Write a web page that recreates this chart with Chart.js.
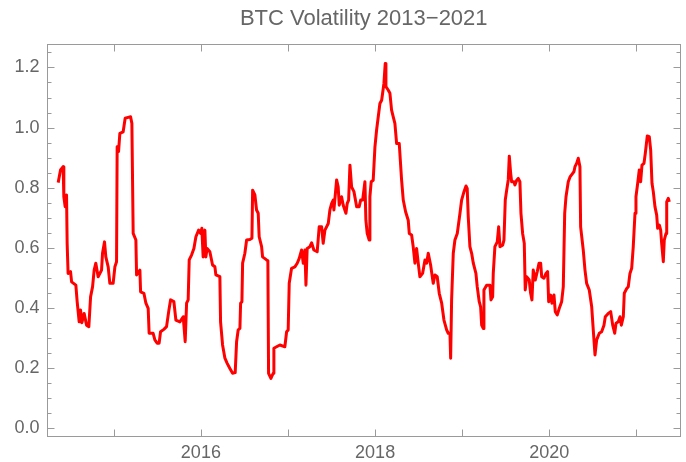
<!DOCTYPE html>
<html>
<head>
<meta charset="utf-8">
<script src="https://cdn.jsdelivr.net/npm/chart.js@4/dist/chart.umd.min.js"></script>
<style>
  html, body { margin: 0; padding: 0; background: #fff; }
  canvas { display: block; }
</style>
</head>
<body>
<canvas id="volChart" width="686" height="462"></canvas>
<script>
// decimal year of each reading
const years = [
  2014.362, 2014.389, 2014.419, 2014.427, 2014.442, 2014.458, 2014.465, 2014.476, 2014.504, 2014.516,
  2014.565, 2014.580, 2014.603, 2014.619, 2014.634, 2014.660, 2014.688, 2014.714, 2014.734, 2014.757,
  2014.775, 2014.794, 2014.821, 2014.860, 2014.871, 2014.894, 2014.909, 2014.936, 2014.955, 2014.993,
  2015.013, 2015.032, 2015.039, 2015.055, 2015.070, 2015.108, 2015.131, 2015.165, 2015.193, 2015.208,
  2015.223, 2015.254, 2015.262, 2015.300, 2015.308, 2015.346, 2015.369, 2015.395, 2015.406, 2015.452,
  2015.472, 2015.498, 2015.521, 2015.537, 2015.575, 2015.606, 2015.633, 2015.652, 2015.690, 2015.713,
  2015.759, 2015.797, 2015.805, 2015.820, 2015.836, 2015.854, 2015.866, 2015.893, 2015.920, 2015.943,
  2015.974, 2015.997, 2016.011, 2016.026, 2016.046, 2016.057, 2016.072, 2016.103, 2016.134, 2016.161,
  2016.172, 2016.218, 2016.226, 2016.249, 2016.276, 2016.302, 2016.333, 2016.364, 2016.394, 2016.410,
  2016.428, 2016.448, 2016.456, 2016.471, 2016.479, 2016.505, 2016.525, 2016.563, 2016.586, 2016.594,
  2016.620, 2016.639, 2016.658, 2016.669, 2016.697, 2016.708, 2016.754, 2016.769, 2016.777,
  2016.804, 2016.830, 2016.838, 2016.869, 2016.907, 2016.964, 2016.984, 2017.002, 2017.014, 2017.041,
  2017.079, 2017.106, 2017.129, 2017.156, 2017.175, 2017.194, 2017.206, 2017.220, 2017.251, 2017.271,
  2017.297, 2017.335, 2017.358, 2017.386, 2017.404, 2017.424, 2017.462, 2017.481, 2017.501, 2017.519,
  2017.527, 2017.558, 2017.576, 2017.588, 2017.615, 2017.634, 2017.665, 2017.680, 2017.696, 2017.711,
  2017.730, 2017.757, 2017.788, 2017.817, 2017.834, 2017.857, 2017.883, 2017.894, 2017.909, 2017.932,
  2017.940, 2017.955, 2017.978, 2017.998, 2018.017, 2018.036, 2018.055, 2018.075, 2018.086, 2018.101,
  2018.116, 2018.124, 2018.150, 2018.170, 2018.189, 2018.208, 2018.227, 2018.247, 2018.277, 2018.304,
  2018.323, 2018.350, 2018.380, 2018.392, 2018.419, 2018.437, 2018.457, 2018.476, 2018.495, 2018.514,
  2018.545, 2018.572, 2018.591, 2018.610, 2018.637, 2018.667, 2018.687, 2018.713, 2018.736, 2018.764,
  2018.790, 2018.821, 2018.839, 2018.859, 2018.867, 2018.878, 2018.897, 2018.916, 2018.943, 2018.974,
  2018.993, 2019.020, 2019.043, 2019.057, 2019.069, 2019.088, 2019.108, 2019.127, 2019.157, 2019.172,
  2019.195, 2019.211, 2019.223, 2019.241, 2019.249, 2019.280, 2019.318, 2019.330, 2019.349, 2019.356,
  2019.375, 2019.402, 2019.418, 2019.433, 2019.464, 2019.479, 2019.494, 2019.510, 2019.528, 2019.540,
  2019.556, 2019.567, 2019.594, 2019.605, 2019.625, 2019.643, 2019.662, 2019.674, 2019.693, 2019.712,
  2019.723, 2019.739, 2019.769, 2019.785, 2019.800, 2019.815, 2019.838, 2019.861, 2019.881, 2019.900,
  2019.912, 2019.938, 2019.961, 2019.980, 2019.992, 2020.015, 2020.030, 2020.053, 2020.068, 2020.091,
  2020.114, 2020.141, 2020.160, 2020.176, 2020.191, 2020.217, 2020.237, 2020.268, 2020.282, 2020.294,
  2020.313, 2020.332, 2020.351, 2020.359, 2020.389, 2020.409, 2020.428, 2020.458, 2020.486, 2020.504,
  2020.524, 2020.543, 2020.573, 2020.600, 2020.627, 2020.642, 2020.676, 2020.704, 2020.727, 2020.750,
  2020.765, 2020.791, 2020.811, 2020.826, 2020.849, 2020.860, 2020.888, 2020.906, 2020.925, 2020.945,
  2020.963, 2020.983, 2020.994, 2021.014, 2021.032, 2021.048, 2021.063, 2021.086, 2021.101, 2021.124,
  2021.147, 2021.163, 2021.178, 2021.193, 2021.212, 2021.232, 2021.243, 2021.262, 2021.278, 2021.289,
  2021.308, 2021.319, 2021.339, 2021.347, 2021.365, 2021.377
];

// volatility reading at each of those dates
const volatility = [
  0.817, 0.859, 0.870, 0.770, 0.737, 0.776, 0.615, 0.515, 0.521, 0.487,
  0.476, 0.421, 0.354, 0.393, 0.351, 0.382, 0.343, 0.338, 0.437, 0.471,
  0.526, 0.549, 0.504, 0.526, 0.582, 0.620, 0.570, 0.537, 0.482, 0.482,
  0.537, 0.554, 0.936, 0.920, 0.981, 0.986, 1.031, 1.034, 1.036, 1.014,
  0.648, 0.626, 0.510, 0.526, 0.454, 0.449, 0.416, 0.399, 0.316, 0.316,
  0.294, 0.283, 0.283, 0.321, 0.329, 0.338, 0.393, 0.427, 0.421, 0.360,
  0.354, 0.371, 0.343, 0.288, 0.416, 0.427, 0.560, 0.576, 0.598, 0.637,
  0.659, 0.648, 0.665, 0.570, 0.659, 0.570, 0.598, 0.587, 0.543, 0.537,
  0.510, 0.504, 0.354, 0.277, 0.233, 0.216, 0.199, 0.183, 0.185, 0.288,
  0.327, 0.332, 0.416, 0.421, 0.549, 0.582, 0.626, 0.628, 0.632, 0.792,
  0.776, 0.726, 0.715, 0.637, 0.604, 0.570, 0.560, 0.557, 0.183,
  0.166, 0.183, 0.266, 0.271, 0.277, 0.271, 0.321, 0.327, 0.482, 0.532,
  0.537, 0.549, 0.565, 0.593, 0.549, 0.593, 0.476, 0.598, 0.604, 0.617,
  0.593, 0.587, 0.670, 0.670, 0.615, 0.659, 0.681, 0.726, 0.748, 0.759,
  0.726, 0.826, 0.803, 0.742, 0.770, 0.742, 0.715, 0.748, 0.759, 0.875,
  0.803, 0.787, 0.737, 0.737, 0.759, 0.759, 0.820, 0.692, 0.648, 0.626,
  0.770, 0.820, 0.825, 0.936, 0.992, 1.036, 1.080, 1.091, 1.114, 1.147,
  1.213, 1.136, 1.125, 1.114, 1.058, 1.036, 1.014, 0.947, 0.947, 0.825,
  0.759, 0.720, 0.692, 0.648, 0.643, 0.604, 0.549, 0.598, 0.549, 0.504,
  0.515, 0.560, 0.549, 0.582, 0.543, 0.482, 0.510, 0.504, 0.449, 0.416,
  0.360, 0.327, 0.316, 0.316, 0.233, 0.427, 0.582, 0.626, 0.648, 0.715,
  0.759, 0.787, 0.806, 0.798, 0.703, 0.604, 0.582, 0.549, 0.515, 0.471,
  0.421, 0.404, 0.343, 0.332, 0.460, 0.476, 0.476, 0.427, 0.437, 0.515,
  0.604, 0.620, 0.670, 0.604, 0.609, 0.626, 0.759, 0.792, 0.826, 0.905,
  0.848, 0.820, 0.820, 0.809, 0.825, 0.831, 0.820, 0.715, 0.648, 0.615,
  0.460, 0.504, 0.493, 0.449, 0.427, 0.526, 0.493, 0.521, 0.549, 0.549,
  0.504, 0.499, 0.515, 0.521, 0.421, 0.443, 0.416, 0.443, 0.388, 0.377,
  0.399, 0.421, 0.471, 0.715, 0.770, 0.820, 0.836, 0.848, 0.853, 0.870,
  0.881, 0.898, 0.870, 0.670, 0.593, 0.526, 0.482, 0.460, 0.404, 0.327,
  0.244, 0.294, 0.316, 0.321, 0.343, 0.371, 0.382, 0.388, 0.343, 0.316,
  0.349, 0.354, 0.371, 0.343, 0.371, 0.449, 0.465, 0.471, 0.515, 0.532,
  0.604, 0.715, 0.770, 0.815, 0.859, 0.820, 0.875, 0.881, 0.914, 0.972,
  0.970, 0.925, 0.815, 0.787, 0.737, 0.709, 0.665, 0.676, 0.659, 0.615,
  0.554, 0.626, 0.648, 0.753, 0.765, 0.753
];

const yearMarks = [2015, 2016, 2017, 2018, 2019, 2020, 2021]; // frame ticks
const yearLabels = [2016, 2018, 2020]; // labelled ticks
const volLabels = [0, 0.2, 0.4, 0.6, 0.8, 1.0, 1.2];

const textGray = '#666666';
const frameGray = '#9a9a9a';
const fontFamily = '"Liberation Sans", Arial, sans-serif';

// Mathematica-like frame with inward ticks on all four sides
const framePlugin = {
    id: 'frame',
    beforeDatasetsDraw(chart) {
        const { ctx, chartArea: a, scales } = chart;
        const L = Math.round(a.left) + 0.5;
        const R = Math.round(a.right) - 0.5;
        const T = Math.round(a.top) + 0.5;
        const B = Math.round(a.bottom) - 0.5;
        ctx.save();
        ctx.strokeStyle = frameGray;
        ctx.lineWidth = 1;
        ctx.strokeRect(L, T, R - L, B - T);
        ctx.beginPath();
        yearMarks.forEach(yr => {
            const px = Math.round(scales.x.getPixelForValue(yr)) + 0.5;
            ctx.moveTo(px, B); ctx.lineTo(px, B - 7);
            ctx.moveTo(px, T); ctx.lineTo(px, T + 7);
        });
        for (let i = 0; i <= 25; i++) {
            const py = Math.round(scales.y.getPixelForValue(i * 0.05)) + 0.5;
            const len = i % 4 === 0 ? 7 : 4;
            ctx.moveTo(L, py); ctx.lineTo(L + len, py);
            ctx.moveTo(R, py); ctx.lineTo(R - len, py);
        }
        ctx.stroke();
        ctx.restore();
    }
};

const ctx = document.getElementById('volChart').getContext('2d');
new Chart(ctx, {
    type: 'line',
    data: {
        datasets: [{
            data: years.map((t, i) => ({ x: t, y: volatility[i] })),
            borderColor: '#ff0000',
            borderWidth: 3,
            borderJoinStyle: 'round',
            pointRadius: 0,
            tension: 0,
            fill: false
        }]
    },
    options: {
        responsive: false,
        animation: false,
        layout: { padding: { left: 0, right: 5, top: 0, bottom: 0 } },
        plugins: {
            legend: { display: false },
            tooltip: { enabled: false },
            title: {
                display: true,
                text: 'BTC Volatility 2013\u22122021',
                fullSize: false,
                color: textGray,
                font: { family: fontFamily, size: 22, weight: 'normal' },
                padding: { top: 6, bottom: 11.6 }
            }
        },
        scales: {
            x: {
                type: 'linear',
                min: 2014.228,
                max: 2021.511,
                grid: { display: false, drawTicks: false },
                border: { display: false },
                afterBuildTicks: s => { s.ticks = yearLabels.map(v => ({ value: v })); },
                afterFit: s => { s.height = 25.3; },
                ticks: {
                    autoSkip: false,
                    maxRotation: 0,
                    padding: 6,
                    color: textGray,
                    font: { family: fontFamily, size: 18 },
                    callback: v => String(v)
                }
            },
            y: {
                min: -0.028,
                max: 1.278,
                grid: { display: false, drawTicks: false },
                border: { display: false },
                afterBuildTicks: s => { s.ticks = volLabels.map(v => ({ value: v })); },
                afterFit: s => { s.width = 46.5; },
                ticks: {
                    padding: 7,
                    color: textGray,
                    font: { family: fontFamily, size: 18 },
                    callback: v => v.toFixed(1)
                }
            }
        }
    },
    plugins: [framePlugin]
});
</script>
</body>
</html>
